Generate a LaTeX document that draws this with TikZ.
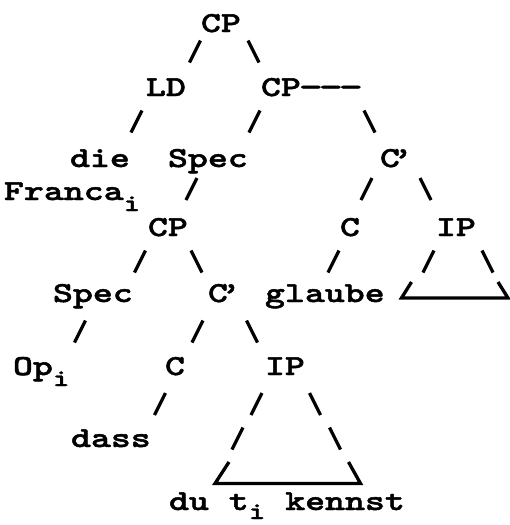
\documentclass[tikz,border=0pt]{standalone}
\usepackage{fontspec}
\newfontfamily\twfont{lmmonolt10-bold}[Extension=.otf, FakeStretch=1.31, FakeBold=1.6]
\newcommand\subi{\raisebox{-11pt}{\fontsize{24}{24}\selectfont i}}
\newcommand\dashx{\makebox[20pt]{\scalebox{1.2}[1]{-}}}
\newcommand\cbar{C\kern-7pt’\kern7pt}
\newcommand\fsl[2]{\draw[slashline] (#1,#2) ++(5.5,-11) -- ++(-11,22);}
\newcommand\bsl[2]{\draw[slashline] (#1,#2) ++(-5.5,-11) -- ++(11,22);}
\tikzset{
  lbl/.style={inner sep=0pt, outer sep=0pt, anchor=base west, font=\twfont\fontsize{29}{29}\selectfont},
  slashline/.style={line width=3.3pt, line cap=butt},
  triline/.style={line width=3.3pt, line cap=butt, line join=miter},
}
\begin{document}
\begin{tikzpicture}[x=1pt,y=-1pt]
\useasboundingbox[fill=white] (0,0) rectangle (509,525);
% row 1
\node[lbl] (cpA) at (201,32) {CP};
% row 2
\fsl{195}{51.5}
\bsl{253.5}{51.5}
% row 3
\node[lbl] (ld) at (146,96) {LD};
\node[lbl] (cpB) at (261,96) {CP\dashx\dashx\dashx};
% row 4
\fsl{136.5}{121.5}
\fsl{254.5}{121.5}
\bsl{369.5}{121.5}
% row 5
\node[lbl] (die) at (70,167) {die};
\node[lbl] (specA) at (168,167) {Spec};
\node[lbl] (cbarA) at (380,167) {\cbar};
% row 6
\node[lbl] (franca) at (4,200) {Franca\subi};
\fsl{191.5}{189}
\fsl{366.5}{189}
\bsl{425.5}{189}
% row 7
\node[lbl] (cpC) at (148,236) {CP};
\node[lbl] (cA) at (340,236) {C};
\node[lbl] (ipA) at (436,236) {IP};
% row 8
\fsl{140}{261.5}
\bsl{196.5}{261.5}
\fsl{333.5}{261.5}
\fsl{428.5}{261.5}
\bsl{487.5}{261.5}
% row 9
\node[lbl] (specB) at (53,302) {Spec};
\node[lbl] (cbarB) at (208,302) {\cbar};
\node[lbl] (glaube) at (265,302) {glaube};
\draw[triline] (411.5,282) -- (401.5,298) -- (508,298) -- (498,282);
% row 10
\fsl{80}{331.5}
\fsl{197.5}{331.5}
\bsl{252}{331.5}
% row 11
\node[lbl] (op) at (13,375) {Op\subi};
\node[lbl] (cB) at (165,375) {C};
\node[lbl] (ipB) at (265,375) {IP};
% row 12
\fsl{160}{404}
\fsl{256.5}{404}
\bsl{315}{404}
% row 13
\node[lbl] (dass) at (71,447) {dass};
\fsl{237.5}{438.5}
\bsl{335}{438.5}
% row 14
\draw[triline] (229,462) -- (215,483.5) -- (360.5,483.5) -- (348.5,462);
% row 15
\node[lbl] (du) at (169,510) {du t\raisebox{-9pt}{\fontsize{24}{24}\selectfont i}{} kennst};
\end{tikzpicture}
\end{document}
